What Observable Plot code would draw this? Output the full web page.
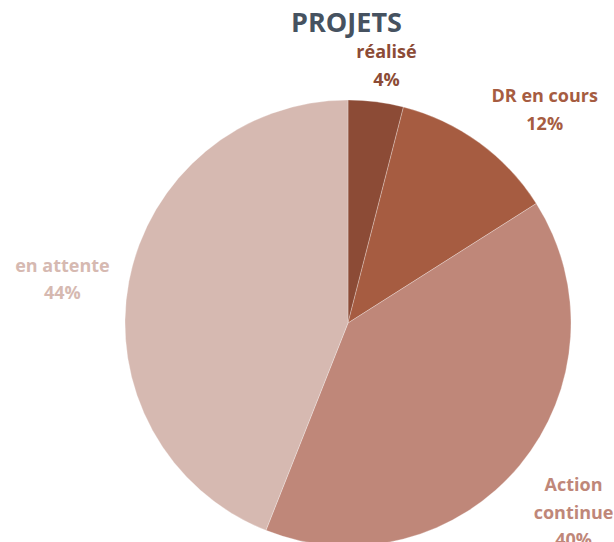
<!DOCTYPE html>
<html>
<head>
<meta charset="utf-8">
<script src="https://cdn.jsdelivr.net/npm/d3@7"></script>
<script src="https://cdn.jsdelivr.net/npm/@observablehq/plot@0.6"></script>
<style>
  html, body { margin: 0; padding: 0; background: #fff; overflow: hidden; }
</style>
</head>
<body>
<div id="chart"></div>
<script>
// ---- data ----
const title = "PROJETS";
const categories = ["réalisé", "DR en cours", "Action continue", "en attente"];
const values = [4, 12, 40, 44];
const labelTexts = ["réalisé\n4%", "DR en cours\n12%", "Action\ncontinue\n40%", "en attente\n44%"];
const colors = ["#8c4b36", "#a65c41", "#bf8779", "#d6b9b1"];

// ---- layout (label placement like Excel "best fit") ----
const labelAngle = [8.3, 42.2, 129.6, 279.3];   // degrees clockwise from 12 o'clock
const labelRadius = [1.18, 1.31, 1.31, 1.30];   // in units of the pie radius

const rows = categories.map((c, i) => ({
  name: c, value: values[i], label: labelTexts[i],
  lx: labelRadius[i] * Math.sin(labelAngle[i] * Math.PI / 180),
  ly: labelRadius[i] * Math.cos(labelAngle[i] * Math.PI / 180)
}));

function pieMark(index, scales, channels, dimensions) {
  const cx = scales.x(0), cy = scales.y(0);
  const r = scales.x(1) - scales.x(0);
  const arcs = d3.pie().sort(null).value(d => d.value)(rows);
  const arc = d3.arc().innerRadius(0).outerRadius(r);
  const g = d3.create("svg:g").attr("transform", `translate(${cx},${cy})`);
  g.selectAll("path").data(arcs).join("path")
    .attr("d", arc)
    .attr("fill", d => scales.color(d.data.name))
    .attr("stroke", "#ffffff")
    .attr("stroke-opacity", 0.35)
    .attr("stroke-width", 0.8);
  return g.node();
}

const chart = Plot.plot({
  width: 614,
  height: 542,
  marginLeft: 125,
  marginRight: 43,
  marginTop: 100,
  marginBottom: -4,
  x: { domain: [-1, 1], axis: null },
  y: { domain: [-1, 1], axis: null },
  color: { domain: categories, range: colors },
  style: { fontFamily: "'Open Sans', Lato, sans-serif", background: "#fff", overflow: "visible" },
  marks: [
    pieMark,
    Plot.text(rows, {
      x: "lx", y: "ly", text: "label", fill: "name",
      fontSize: 18, fontWeight: "bold", lineHeight: 1.53, textAnchor: "middle"
    }),
    Plot.text([title], {
      frameAnchor: "top", dy: -69, fontSize: 27, fontWeight: "bold", fill: "#465260",
      lineAnchor: "bottom", dx: -2
    })
  ]
});
document.getElementById("chart").appendChild(chart);
</script>
</body>
</html>
